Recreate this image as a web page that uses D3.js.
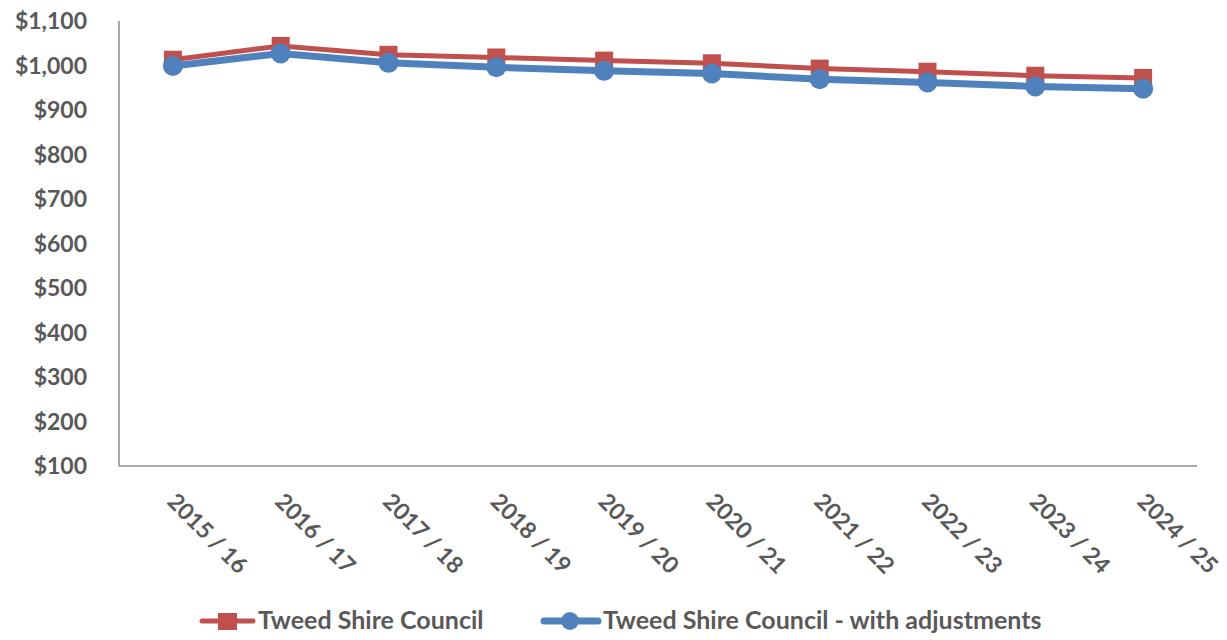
<!DOCTYPE html>
<html>
<head>
<meta charset="utf-8">
<script src="https://cdn.jsdelivr.net/npm/d3@7"></script>
<style>
  body { margin: 0; background: #fff; }
  text { font-family: Lato, "Open Sans", sans-serif; font-weight: 700; fill: #595959; }
</style>
</head>
<body>
<div id="chart"></div>
<script>
// Chart data
const years = ['2015 / 16', '2016 / 17', '2017 / 18', '2018 / 19', '2019 / 20',
  '2020 / 21', '2021 / 22', '2022 / 23', '2023 / 24', '2024 / 25'];
const councilValues = [1013, 1044, 1024, 1018, 1011, 1005, 993, 986, 977, 972];
const adjustedValues = [999, 1027, 1006, 996, 988, 982, 969, 962, 953, 948];
const yTicks = [100, 200, 300, 400, 500, 600, 700, 800, 900, 1000, 1100];

const width = 1227, height = 640;
const margin = { top: 21, right: 30, bottom: 174, left: 119 };

const svg = d3.select('#chart').append('svg')
  .attr('width', width)
  .attr('height', height);

const x = d3.scaleBand()
  .domain(years)
  .range([margin.left, 1197]);

const y = d3.scaleLinear()
  .domain([100, 1100])
  .range([height - margin.bottom, margin.top]);

// y axis labels
svg.append('g')
  .selectAll('text')
  .data(yTicks)
  .join('text')
  .attr('x', 87)
  .attr('y', d => y(d) + 8)
  .attr('text-anchor', 'end')
  .attr('font-size', '23px')
  .text(d => d3.format('$,')(d));

// axis lines
svg.append('line')
  .attr('x1', margin.left).attr('x2', margin.left)
  .attr('y1', y(1100)).attr('y2', y(100))
  .attr('stroke', '#8c8c8c').attr('stroke-width', 1.5);

svg.append('line')
  .attr('x1', margin.left).attr('x2', 1197)
  .attr('y1', y(100)).attr('y2', y(100))
  .attr('stroke', '#8c8c8c').attr('stroke-width', 1.5);

// x labels, rotated
svg.append('g')
  .selectAll('text')
  .data(years)
  .join('text')
  .attr('transform', d => `translate(${x(d) + x.bandwidth() / 2 - 7},${y(100) + 37}) rotate(45)`)
  .attr('text-anchor', 'start')
  .attr('font-size', '23px')
  .text(d => d);

const cx = d => x(d) + x.bandwidth() / 2;

const line = d3.line()
  .x((d, i) => cx(years[i]))
  .y(d => y(d));

// Tweed Shire Council (red, squares)
svg.append('path')
  .datum(councilValues)
  .attr('fill', 'none')
  .attr('stroke', '#C0504D')
  .attr('stroke-width', 5)
  .attr('d', line);

svg.append('g')
  .selectAll('rect')
  .data(councilValues)
  .join('rect')
  .attr('x', (d, i) => cx(years[i]) - 9)
  .attr('y', d => y(d) - 9)
  .attr('width', 18)
  .attr('height', 18)
  .attr('fill', '#C0504D');

// with adjustments (blue, circles)
svg.append('path')
  .datum(adjustedValues)
  .attr('fill', 'none')
  .attr('stroke', '#4F81BD')
  .attr('stroke-width', 7)
  .attr('d', line);

svg.append('g')
  .selectAll('circle')
  .data(adjustedValues)
  .join('circle')
  .attr('cx', (d, i) => cx(years[i]))
  .attr('cy', d => y(d))
  .attr('r', 10)
  .attr('fill', '#4F81BD');

// Legend
const legend = svg.append('g');

legend.append('line')
  .attr('x1', 202).attr('x2', 253)
  .attr('y1', 621).attr('y2', 621)
  .attr('stroke', '#C0504D').attr('stroke-width', 5).attr('stroke-linecap', 'round');
legend.append('rect')
  .attr('x', 218).attr('y', 613).attr('width', 19).attr('height', 17)
  .attr('fill', '#C0504D');
legend.append('text')
  .attr('x', 258).attr('y', 629)
  .attr('font-size', '25px')
  .text('Tweed Shire Council');

legend.append('line')
  .attr('x1', 544).attr('x2', 598)
  .attr('y1', 621).attr('y2', 621)
  .attr('stroke', '#4F81BD').attr('stroke-width', 7).attr('stroke-linecap', 'round');
legend.append('circle')
  .attr('cx', 570).attr('cy', 621).attr('r', 9)
  .attr('fill', '#4F81BD');
legend.append('text')
  .attr('x', 603).attr('y', 629)
  .attr('font-size', '25px')
  .text('Tweed Shire Council - with adjustments');
</script>
</body>
</html>
